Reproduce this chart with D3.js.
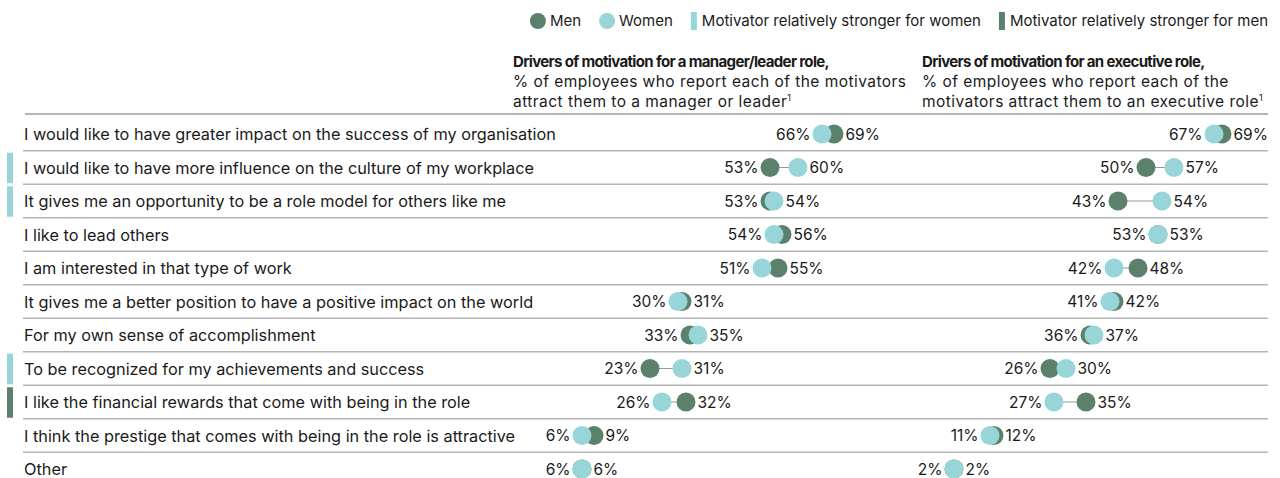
<!DOCTYPE html>
<html>
<head>
<meta charset="utf-8">
<script src="https://cdn.jsdelivr.net/npm/d3@7"></script>
<style>
  body { margin: 0; background: #fff; }
  svg { display: block; }
  text { font-family: Inter, "Open Sans", sans-serif; fill: #1a1a1a; }
</style>
</head>
<body>
<svg id="chart"></svg>
<script>
// data
const categories = [
    'I would like to have greater impact on the success of my organisation',
    'I would like to have more influence on the culture of my workplace',
    'It gives me an opportunity to be a role model for others like me',
    'I like to lead others',
    'I am interested in that type of work',
    'It gives me a better position to have a positive impact on the world',
    'For my own sense of accomplishment',
    'To be recognized for my achievements and success',
    'I like the financial rewards that come with being in the role',
    'I think the prestige that comes with being in the role is attractive',
    'Other'
];
const managerMen   = [69, 53, 53, 56, 55, 31, 33, 23, 32, 9, 6];
const managerWomen = [66, 60, 54, 54, 51, 30, 35, 31, 26, 6, 6];
const execMen      = [69, 50, 43, 53, 48, 42, 36, 26, 35, 12, 2];
const execWomen    = [67, 57, 54, 53, 42, 41, 37, 30, 27, 11, 2];
// 'women' / 'men' / null : which side marker the row gets
const stronger = [null, 'women', 'women', null, null, null, null, 'women', 'men', null, null];

const width = 1280, height = 478;
const menColor = '#5b806c', womenColor = '#98d5d9', lineColor = '#b4b4b4';
const r = 9.5;

const svg = d3.select('#chart').attr('width', width).attr('height', height);

const y = d3.scaleBand()
    .domain(categories)
    .range([117.25, 117.25 + 33.5 * categories.length]);

const xManager = d3.scaleLinear().domain([0, 100]).range([558, 958]);
const xExec = d3.scaleLinear().domain([0, 100]).range([946, 1346]);

// legend
const legend = svg.append('g');
let lx = 0;
const gap = 18;
const items = [
    { type: 'dot', color: menColor, label: 'Men' },
    { type: 'dot', color: womenColor, label: 'Women' },
    { type: 'bar', color: womenColor, label: 'Motivator relatively stronger for women' },
    { type: 'bar', color: menColor, label: 'Motivator relatively stronger for men' }
];
items.forEach(it => {
    const g = legend.append('g').attr('transform', `translate(${lx},0)`);
    if (it.type === 'dot') {
        g.append('circle').attr('cx', 8).attr('cy', 21).attr('r', 8).attr('fill', it.color);
    } else {
        g.append('rect').attr('x', 0).attr('y', 12).attr('width', 6).attr('height', 18).attr('fill', it.color);
    }
    const tx = it.type === 'dot' ? 20 : 11;
    const t = g.append('text').attr('x', tx).attr('y', 26).attr('font-size', 15).text(it.label);
    lx += tx + t.node().getComputedTextLength() + gap;
});
legend.attr('transform', `translate(${1268 - (lx - gap)},0)`);

// headers
function header(x, bold, lines) {
    const t = svg.append('text').attr('font-size', 15.5).attr('letter-spacing', 0.45);
    t.append('tspan').attr('x', x).attr('y', 67)
        .attr('font-weight', 700).attr('font-size', 15).attr('letter-spacing', -0.65)
        .text(bold);
    lines.forEach((l, i) => {
        t.append('tspan').attr('x', x).attr('y', 87 + i * 20).text(l);
    });
    return t;
}
const h1 = header(513, 'Drivers of motivation for a manager/leader role,',
    ['% of employees who report each of the motivators', 'attract them to a manager or leader']);
h1.append('tspan').attr('font-size', 9).attr('dy', -6).text('1');
const h2 = header(922, 'Drivers of motivation for an executive role,',
    ['% of employees who report each of the', 'motivators attract them to an executive role']);
h2.append('tspan').attr('font-size', 9).attr('dy', -6).text('1');

// top rule and row separators
svg.append('line').attr('x1', 25).attr('x2', 1268).attr('y1', 114).attr('y2', 114)
    .attr('stroke', lineColor).attr('stroke-width', 2);
svg.selectAll('.sep')
    .data(categories.slice(0, -1))
    .enter().append('line')
    .attr('class', 'sep')
    .attr('x1', 23).attr('x2', 1268)
    .attr('y1', d => y(d) + y.bandwidth())
    .attr('y2', d => y(d) + y.bandwidth())
    .attr('stroke', lineColor).attr('stroke-width', 1.5);

// side markers
svg.selectAll('.marker')
    .data(categories.filter((d, i) => stronger[i]))
    .enter().append('rect')
    .attr('x', 7).attr('width', 6)
    .attr('y', d => y(d) + 2)
    .attr('height', y.bandwidth() - 3)
    .attr('fill', d => stronger[categories.indexOf(d)] === 'women' ? womenColor : menColor);

// row labels
svg.selectAll('.label')
    .data(categories)
    .enter().append('text')
    .attr('x', 24)
    .attr('y', d => y(d) + y.bandwidth() / 2 + 6)
    .attr('font-size', 16.3)
    .text(d => d);

// dumbbells
function panel(x, men, women) {
    const rows = categories.map((c, i) => ({ c, m: men[i], w: women[i] }));
    const g = svg.append('g');
    const cy = d => y(d.c) + y.bandwidth() / 2;

    g.selectAll('.link').data(rows).enter().append('line')
        .attr('x1', d => x(d.m)).attr('x2', d => x(d.w))
        .attr('y1', cy).attr('y2', cy)
        .attr('stroke', '#999').attr('stroke-width', 1);
    g.selectAll('.men').data(rows).enter().append('circle')
        .attr('cx', d => x(d.m)).attr('cy', cy).attr('r', r).attr('fill', menColor);
    g.selectAll('.women').data(rows).enter().append('circle')
        .attr('cx', d => x(d.w)).attr('cy', cy).attr('r', r).attr('fill', womenColor);

    g.selectAll('.lo').data(rows).enter().append('text')
        .attr('x', d => x(Math.min(d.m, d.w)) - r - 2)
        .attr('y', d => cy(d) + 5.5)
        .attr('text-anchor', 'end').attr('font-size', 15.5)
        .text(d => Math.min(d.m, d.w) + '%');
    g.selectAll('.hi').data(rows).enter().append('text')
        .attr('x', d => x(Math.max(d.m, d.w)) + r + 2)
        .attr('y', d => cy(d) + 5.5)
        .attr('font-size', 15.5)
        .text(d => Math.max(d.m, d.w) + '%');
}
panel(xManager, managerMen, managerWomen);
panel(xExec, execMen, execWomen);
</script>
</body>
</html>
